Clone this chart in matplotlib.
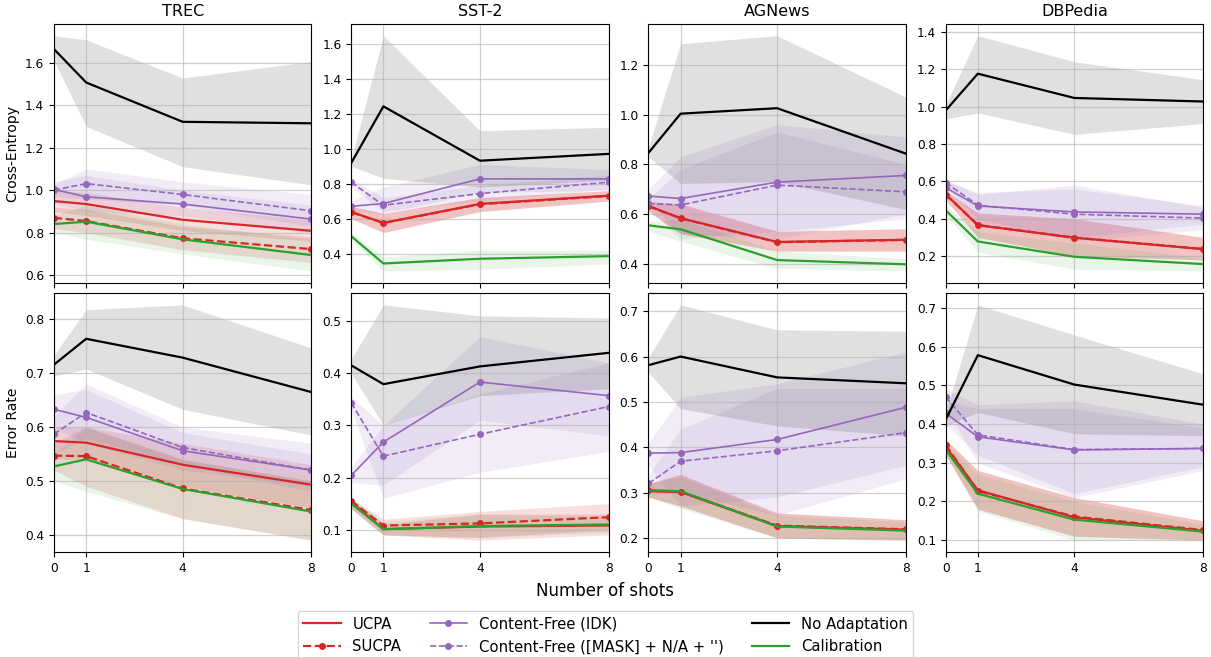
import matplotlib
matplotlib.use("Agg")
import matplotlib.pyplot as plt
import numpy as np

shots = [0, 1, 4, 8]
datasets = ["TREC", "SST-2", "AGNews", "DBPedia"]
metrics = ["Cross-Entropy", "Error Rate"]
methods = ["UCPA", "SUCPA", "Content-Free (IDK)", "Content-Free ([MASK] + N/A + '')",
           "No Adaptation", "Calibration"]

# ---------- Cross-Entropy: mean, lower, upper ----------
ce_trec_mean = {
    "UCPA": [0.949, 0.935, 0.861, 0.809],
    "SUCPA": [0.870, 0.855, 0.774, 0.723],
    "Content-Free (IDK)": [1.004, 0.969, 0.935, 0.864],
    "Content-Free ([MASK] + N/A + '')": [1.001, 1.031, 0.980, 0.903],
    "No Adaptation": [1.664, 1.507, 1.322, 1.315],
    "Calibration": [0.841, 0.852, 0.769, 0.695],
}
ce_trec_low = {
    "UCPA": [0.90, 0.88, 0.81, 0.76],
    "SUCPA": [0.82, 0.80, 0.72, 0.66],
    "Content-Free (IDK)": [0.94, 0.90, 0.88, 0.80],
    "Content-Free ([MASK] + N/A + '')": [0.97, 0.96, 0.93, 0.83],
    "No Adaptation": [1.61, 1.30, 1.111, 1.025],
    "Calibration": [0.80, 0.77, 0.70, 0.62],
}
ce_trec_high = {
    "UCPA": [1.00, 0.99, 0.92, 0.86],
    "SUCPA": [0.92, 0.91, 0.83, 0.78],
    "Content-Free (IDK)": [1.04, 1.07, 1.00, 0.93],
    "Content-Free ([MASK] + N/A + '')": [1.03, 1.10, 1.04, 0.98],
    "No Adaptation": [1.727, 1.708, 1.528, 1.606],
    "Calibration": [0.88, 0.93, 0.84, 0.77],
}

ce_sst2_mean = {
    "UCPA": [0.638, 0.575, 0.684, 0.731],
    "SUCPA": [0.636, 0.575, 0.682, 0.729],
    "Content-Free (IDK)": [0.670, 0.686, 0.827, 0.827],
    "Content-Free ([MASK] + N/A + '')": [0.808, 0.676, 0.743, 0.808],
    "No Adaptation": [0.918, 1.242, 0.931, 0.970],
    "Calibration": [0.499, 0.343, 0.370, 0.385],
}
ce_sst2_low = {
    "UCPA": [0.60, 0.52, 0.64, 0.70],
    "SUCPA": [0.60, 0.52, 0.64, 0.70],
    "Content-Free (IDK)": [0.64, 0.63, 0.75, 0.76],
    "Content-Free ([MASK] + N/A + '')": [0.78, 0.64, 0.70, 0.77],
    "No Adaptation": [0.90, 0.83, 0.78, 0.82],
    "Calibration": [0.48, 0.30, 0.31, 0.34],
}
ce_sst2_high = {
    "UCPA": [0.67, 0.63, 0.72, 0.76],
    "SUCPA": [0.67, 0.63, 0.72, 0.76],
    "Content-Free (IDK)": [0.70, 0.78, 0.91, 0.88],
    "Content-Free ([MASK] + N/A + '')": [0.83, 0.72, 0.79, 0.85],
    "No Adaptation": [0.94, 1.646, 1.103, 1.122],
    "Calibration": [0.52, 0.38, 0.42, 0.42],
}

ce_agnews_mean = {
    "UCPA": [0.632, 0.583, 0.487, 0.496],
    "SUCPA": [0.631, 0.582, 0.486, 0.495],
    "Content-Free (IDK)": [0.672, 0.662, 0.728, 0.755],
    "Content-Free ([MASK] + N/A + '')": [0.642, 0.636, 0.716, 0.689],
    "No Adaptation": [0.846, 1.004, 1.026, 0.843],
    "Calibration": [0.554, 0.538, 0.414, 0.397],
}
ce_agnews_low = {
    "UCPA": [0.61, 0.52, 0.45, 0.45],
    "SUCPA": [0.61, 0.52, 0.45, 0.45],
    "Content-Free (IDK)": [0.65, 0.52, 0.50, 0.60],
    "Content-Free ([MASK] + N/A + '')": [0.62, 0.50, 0.53, 0.58],
    "No Adaptation": [0.83, 0.723, 0.73, 0.618],
    "Calibration": [0.53, 0.49, 0.38, 0.37],
}
ce_agnews_high = {
    "UCPA": [0.65, 0.64, 0.53, 0.54],
    "SUCPA": [0.65, 0.64, 0.53, 0.54],
    "Content-Free (IDK)": [0.70, 0.83, 0.96, 0.91],
    "Content-Free ([MASK] + N/A + '')": [0.66, 0.78, 0.93, 0.80],
    "No Adaptation": [0.87, 1.286, 1.318, 1.071],
    "Calibration": [0.57, 0.58, 0.45, 0.42],
}

ce_dbpedia_mean = {
    "UCPA": [0.531, 0.365, 0.298, 0.237],
    "SUCPA": [0.529, 0.366, 0.299, 0.238],
    "Content-Free (IDK)": [0.566, 0.468, 0.436, 0.424],
    "Content-Free ([MASK] + N/A + '')": [0.593, 0.472, 0.424, 0.403],
    "No Adaptation": [0.979, 1.176, 1.046, 1.027],
    "Calibration": [0.445, 0.278, 0.196, 0.157],
}
ce_dbpedia_low = {
    "UCPA": [0.50, 0.30, 0.20, 0.18],
    "SUCPA": [0.50, 0.30, 0.20, 0.18],
    "Content-Free (IDK)": [0.54, 0.37, 0.30, 0.37],
    "Content-Free ([MASK] + N/A + '')": [0.57, 0.40, 0.28, 0.34],
    "No Adaptation": [0.934, 0.966, 0.851, 0.909],
    "Calibration": [0.42, 0.22, 0.13, 0.12],
}
ce_dbpedia_high = {
    "UCPA": [0.55, 0.43, 0.40, 0.30],
    "SUCPA": [0.55, 0.43, 0.40, 0.30],
    "Content-Free (IDK)": [0.60, 0.54, 0.56, 0.47],
    "Content-Free ([MASK] + N/A + '')": [0.61, 0.53, 0.58, 0.46],
    "No Adaptation": [1.01, 1.379, 1.240, 1.144],
    "Calibration": [0.47, 0.33, 0.27, 0.19],
}

# ---------- Error Rate: mean, lower, upper ----------
er_trec_mean = {
    "UCPA": [0.574, 0.571, 0.530, 0.493],
    "SUCPA": [0.547, 0.546, 0.486, 0.446],
    "Content-Free (IDK)": [0.633, 0.618, 0.556, 0.520],
    "Content-Free ([MASK] + N/A + '')": [0.587, 0.627, 0.562, 0.520],
    "No Adaptation": [0.716, 0.764, 0.729, 0.665],
    "Calibration": [0.527, 0.540, 0.485, 0.443],
}
er_trec_low = {
    "UCPA": [0.54, 0.54, 0.49, 0.45],
    "SUCPA": [0.52, 0.49, 0.43, 0.39],
    "Content-Free (IDK)": [0.60, 0.57, 0.52, 0.49],
    "Content-Free ([MASK] + N/A + '')": [0.55, 0.58, 0.53, 0.48],
    "No Adaptation": [0.695, 0.708, 0.633, 0.585],
    "Calibration": [0.50, 0.48, 0.43, 0.39],
}
er_trec_high = {
    "UCPA": [0.60, 0.60, 0.57, 0.53],
    "SUCPA": [0.57, 0.60, 0.54, 0.50],
    "Content-Free (IDK)": [0.66, 0.67, 0.59, 0.55],
    "Content-Free ([MASK] + N/A + '')": [0.62, 0.68, 0.60, 0.57],
    "No Adaptation": [0.734, 0.818, 0.827, 0.747],
    "Calibration": [0.55, 0.60, 0.54, 0.50],
}

er_sst2_mean = {
    "UCPA": [0.153, 0.101, 0.106, 0.108],
    "SUCPA": [0.155, 0.108, 0.112, 0.124],
    "Content-Free (IDK)": [0.204, 0.268, 0.383, 0.357],
    "Content-Free ([MASK] + N/A + '')": [0.343, 0.241, 0.283, 0.336],
    "No Adaptation": [0.415, 0.379, 0.413, 0.439],
    "Calibration": [0.150, 0.101, 0.107, 0.110],
}
er_sst2_low = {
    "UCPA": [0.14, 0.09, 0.08, 0.09],
    "SUCPA": [0.14, 0.09, 0.085, 0.10],
    "Content-Free (IDK)": [0.19, 0.185, 0.31, 0.28],
    "Content-Free ([MASK] + N/A + '')": [0.33, 0.16, 0.21, 0.25],
    "No Adaptation": [0.40, 0.30, 0.357, 0.37],
    "Calibration": [0.14, 0.09, 0.085, 0.095],
}
er_sst2_high = {
    "UCPA": [0.16, 0.11, 0.13, 0.13],
    "SUCPA": [0.16, 0.12, 0.135, 0.15],
    "Content-Free (IDK)": [0.22, 0.30, 0.47, 0.42],
    "Content-Free ([MASK] + N/A + '')": [0.355, 0.30, 0.36, 0.42],
    "No Adaptation": [0.427, 0.531, 0.510, 0.506],
    "Calibration": [0.16, 0.115, 0.13, 0.125],
}

er_agnews_mean = {
    "UCPA": [0.303, 0.301, 0.226, 0.218],
    "SUCPA": [0.305, 0.302, 0.227, 0.219],
    "Content-Free (IDK)": [0.387, 0.388, 0.417, 0.488],
    "Content-Free ([MASK] + N/A + '')": [0.320, 0.369, 0.392, 0.432],
    "No Adaptation": [0.581, 0.600, 0.554, 0.541],
    "Calibration": [0.305, 0.303, 0.225, 0.216],
}
er_agnews_low = {
    "UCPA": [0.29, 0.27, 0.20, 0.195],
    "SUCPA": [0.29, 0.27, 0.20, 0.195],
    "Content-Free (IDK)": [0.36, 0.27, 0.29, 0.36],
    "Content-Free ([MASK] + N/A + '')": [0.30, 0.30, 0.25, 0.33],
    "No Adaptation": [0.565, 0.485, 0.447, 0.425],
    "Calibration": [0.29, 0.265, 0.20, 0.195],
}
er_agnews_high = {
    "UCPA": [0.32, 0.34, 0.255, 0.24],
    "SUCPA": [0.32, 0.34, 0.255, 0.24],
    "Content-Free (IDK)": [0.41, 0.51, 0.54, 0.61],
    "Content-Free ([MASK] + N/A + '')": [0.34, 0.44, 0.53, 0.53],
    "No Adaptation": [0.598, 0.714, 0.659, 0.656],
    "Calibration": [0.32, 0.335, 0.25, 0.235],
}

er_dbpedia_mean = {
    "UCPA": [0.341, 0.229, 0.159, 0.124],
    "SUCPA": [0.346, 0.227, 0.161, 0.126],
    "Content-Free (IDK)": [0.428, 0.367, 0.333, 0.337],
    "Content-Free ([MASK] + N/A + '')": [0.470, 0.372, 0.334, 0.337],
    "No Adaptation": [0.411, 0.578, 0.502, 0.450],
    "Calibration": [0.334, 0.220, 0.153, 0.122],
}
er_dbpedia_low = {
    "UCPA": [0.32, 0.18, 0.11, 0.10],
    "SUCPA": [0.32, 0.18, 0.11, 0.10],
    "Content-Free (IDK)": [0.40, 0.32, 0.22, 0.29],
    "Content-Free ([MASK] + N/A + '')": [0.44, 0.30, 0.21, 0.28],
    "No Adaptation": [0.395, 0.43, 0.375, 0.37],
    "Calibration": [0.32, 0.175, 0.10, 0.10],
}
er_dbpedia_high = {
    "UCPA": [0.36, 0.28, 0.21, 0.15],
    "SUCPA": [0.36, 0.28, 0.21, 0.15],
    "Content-Free (IDK)": [0.46, 0.44, 0.44, 0.39],
    "Content-Free ([MASK] + N/A + '')": [0.49, 0.45, 0.46, 0.40],
    "No Adaptation": [0.43, 0.708, 0.630, 0.530],
    "Calibration": [0.35, 0.27, 0.20, 0.14],
}

panels = [
    [(ce_trec_mean, ce_trec_low, ce_trec_high),
     (ce_sst2_mean, ce_sst2_low, ce_sst2_high),
     (ce_agnews_mean, ce_agnews_low, ce_agnews_high),
     (ce_dbpedia_mean, ce_dbpedia_low, ce_dbpedia_high)],
    [(er_trec_mean, er_trec_low, er_trec_high),
     (er_sst2_mean, er_sst2_low, er_sst2_high),
     (er_agnews_mean, er_agnews_low, er_agnews_high),
     (er_dbpedia_mean, er_dbpedia_low, er_dbpedia_high)],
]

styles = {
    "UCPA": dict(color="tab:red", linestyle="-", marker=None, lw=1.6),
    "SUCPA": dict(color="tab:red", linestyle="--", marker="o", lw=1.6),
    "Content-Free (IDK)": dict(color="tab:purple", linestyle="-", marker="o", lw=1.2),
    "Content-Free ([MASK] + N/A + '')": dict(color="tab:purple", linestyle="--", marker="o", lw=1.2),
    "No Adaptation": dict(color="black", linestyle="-", marker=None, lw=1.6),
    "Calibration": dict(color="tab:green", linestyle="-", marker=None, lw=1.6),
}
band_alpha = {"UCPA": 0.15, "SUCPA": 0.15, "Content-Free (IDK)": 0.12,
              "Content-Free ([MASK] + N/A + '')": 0.12, "No Adaptation": 0.12,
              "Calibration": 0.1}

fig, axes = plt.subplots(2, 4, figsize=(12.11, 6.57), dpi=100, sharex=True)
fig.subplots_adjust(left=0.0446, right=0.9934, top=0.9635, bottom=0.16,
                    wspace=0.155, hspace=0.04)

handles = {}
for r in range(2):
    for c in range(4):
        ax = axes[r, c]
        mean, low, high = panels[r][c]
        for m in methods:
            st = styles[m]
            ax.fill_between(shots, low[m], high[m], color=st["color"],
                            alpha=band_alpha[m], linewidth=0)
            (ln,) = ax.plot(shots, mean[m], color=st["color"], linestyle=st["linestyle"],
                            marker=st["marker"], markersize=4, linewidth=st["lw"], label=m)
            handles[m] = ln
        ax.set_xlim(0, 8)
        ax.set_xticks(shots)
        ax.grid(True, color="#b0b0b0", alpha=0.6, linewidth=0.9)
        ax.tick_params(labelsize=8.7)
        if r == 0:
            ax.set_title(datasets[c], fontsize=11.5)
        if c == 0:
            ax.set_ylabel(metrics[r], fontsize=10)

fig.text(0.5, 0.1, "Number of shots", ha="center", va="center", fontsize=12)
fig.legend([handles[m] for m in methods], methods, loc="upper center",
           bbox_to_anchor=(0.5, 0.075), ncol=3, fontsize=10.7, frameon=True,
           columnspacing=1.9, handlelength=2.5, borderaxespad=0.2)

fig.savefig("out.png", dpi=100)
